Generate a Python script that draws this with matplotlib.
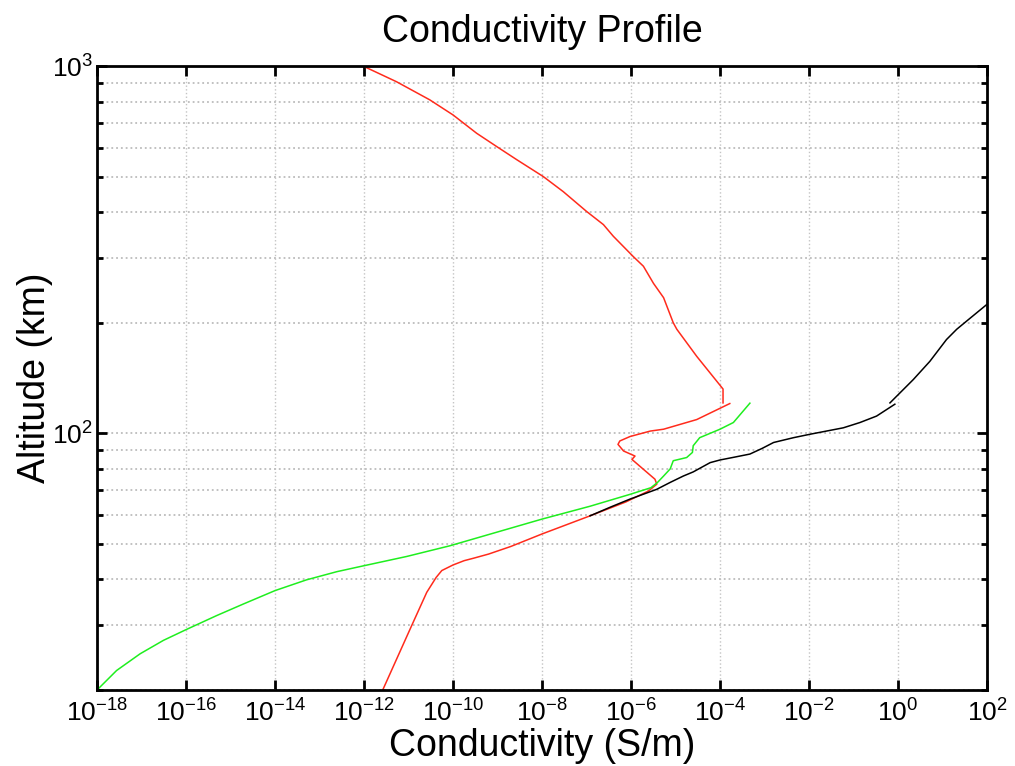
import matplotlib
matplotlib.use('Agg')
import matplotlib.pyplot as plt
import matplotlib.ticker as ticker
import numpy as np

plt.rcParams['font.family'] = ['Liberation Sans', 'DejaVu Sans']
plt.rcParams['mathtext.fontset'] = 'custom'
plt.rcParams['mathtext.rm'] = 'Liberation Sans'
plt.rcParams['mathtext.it'] = 'Liberation Sans'
plt.rcParams['mathtext.bf'] = 'Liberation Sans:bold'

# Red profile, upper part (altitude in km, conductivity in S/m)
red_top_alt = [1000, 906, 809, 736, 656, 604, 556, 500, 455, 402, 370, 344, 303, 285,
               256, 234, 200, 192, 162, 132, 121]
red_top_sig = [9.5e-13, 5.4e-12, 3.0e-11, 1.0e-10, 3.4e-10, 9.5e-10, 2.7e-9, 1.07e-8,
               3.0e-8, 1.0e-7, 2.4e-7, 4.0e-7, 1.12e-6, 1.9e-6, 3.2e-6, 5.4e-6, 8.9e-6,
               1.07e-5, 3.0e-5, 1.17e-4, 1.17e-4]

# Red profile, lower part
red_low_alt = [20, 29.9, 36.9, 40.5, 42.3, 43.8, 45.0, 45.7, 46.9, 49.2, 53.2, 59.6,
               65.0, 69.6, 72.7, 75.0, 79.8, 84.9, 86.7, 89.5, 93.3, 95.3, 98.0, 101.4,
               102.6, 109, 120.5]
red_low_sig = [2.63e-12, 1.17e-11, 2.57e-11, 4.17e-11, 5.6e-11, 1.0e-10, 1.78e-10,
               2.9e-10, 6.3e-10, 2.0e-9, 1.0e-8, 1.2e-7, 7.6e-7, 2.45e-6, 3.8e-6,
               3.45e-6, 1.9e-6, 1.05e-6, 1.23e-6, 6.8e-7, 5.1e-7, 5.6e-7, 9.5e-7,
               2.7e-6, 5.4e-6, 3.0e-5, 1.66e-4]

# Green profile
green_alt = [20, 22.6, 25.1, 27.3, 29.2, 31.9, 34.3, 37.3, 39.9, 42.0, 43.6, 46.2,
             49.4, 58.4, 63.3, 68.2, 71.1, 73.4, 76.5, 80.0, 84.2, 85.9, 88.7, 92.5,
             96.0, 97.3, 102.6, 107, 120.8]
green_sig = [1.0e-18, 2.75e-18, 9.3e-18, 3.1e-17, 1.0e-16, 4.9e-16, 1.95e-15, 1.0e-14,
             5.1e-14, 2.45e-13, 1.0e-12, 9.1e-12, 8.5e-11, 1.0e-8, 1.2e-7, 9.5e-7,
             2.8e-6, 3.9e-6, 5.4e-6, 7.6e-6, 8.9e-6, 1.78e-5, 2.4e-5, 2.5e-5, 3.2e-5,
             3.5e-5, 1.0e-4, 2.0e-4, 4.7e-4]

# Black profile, lower part
black_low_alt = [59.6, 63.0, 66.2, 70.4, 73.5, 76.5, 78.5, 83.2, 84.6, 86.0, 87.8,
                 91.0, 94.4, 97.3, 99.4, 103.5, 107, 111.4, 120]
black_low_sig = [1.2e-7, 3.5e-7, 9.5e-7, 3.8e-6, 7.6e-6, 1.5e-5, 2.5e-5, 6.0e-5,
                 1.0e-4, 2.0e-4, 4.7e-4, 8.9e-4, 1.6e-3, 4.5e-3, 1.05e-2, 5.9e-2,
                 1.4e-1, 3.3e-1, 8.5e-1]

# Black profile, upper part
black_top_alt = [121, 140, 157, 180, 192, 202, 224]
black_top_sig = [0.66, 2.2, 5.2, 12.3, 20.9, 34.7, 98]

red = '#ff2b1c'
green = '#1fee1f'

fig = plt.figure(figsize=(10.15, 7.66), dpi=100)
ax = fig.add_axes([0.0956, 0.0992, 0.8768, 0.8146])

ax.plot(red_top_sig, red_top_alt, color=red, lw=1.1)
ax.plot(red_low_sig, red_low_alt, color=red, lw=1.1)
ax.plot(black_low_sig, black_low_alt, color='black', lw=1.1)
ax.plot(black_top_sig, black_top_alt, color='black', lw=1.1)
ax.plot(green_sig, green_alt, color=green, lw=1.1)

ax.set_xscale('log')
ax.set_yscale('log')
ax.set_xlim(1e-18, 1e2)
ax.set_ylim(20, 1000)

ax.xaxis.set_major_locator(ticker.FixedLocator(10.0 ** np.arange(-18, 3, 2)))
ax.xaxis.set_minor_locator(ticker.NullLocator())
ax.yaxis.set_major_locator(ticker.LogLocator(base=10))
ax.yaxis.set_minor_locator(ticker.LogLocator(base=10, subs=np.arange(2, 10)))
ax.yaxis.set_minor_formatter(ticker.NullFormatter())

ax.grid(True, which='major', axis='x', linestyle=':', color='#c4c4c4', lw=1.0)
ax.grid(True, which='both', axis='y', linestyle=':', color='#bcbcbc', lw=1.3)

ax.tick_params(which='both', direction='in', top=True, right=True, width=2.0,
               labelsize=19)
ax.tick_params(which='major', length=7)
ax.tick_params(which='minor', length=4)
ax.tick_params(axis='x', pad=7)
ax.tick_params(axis='y', pad=3)
for s in ax.spines.values():
    s.set_linewidth(2.0)

ax.set_title('Conductivity Profile', fontsize=27, pad=17)
ax.set_xlabel('Conductivity (S/m)', fontsize=27, labelpad=1)
ax.set_ylabel('Altitude (km)', fontsize=27, labelpad=-1)

fig.savefig('out.png', dpi=100)
